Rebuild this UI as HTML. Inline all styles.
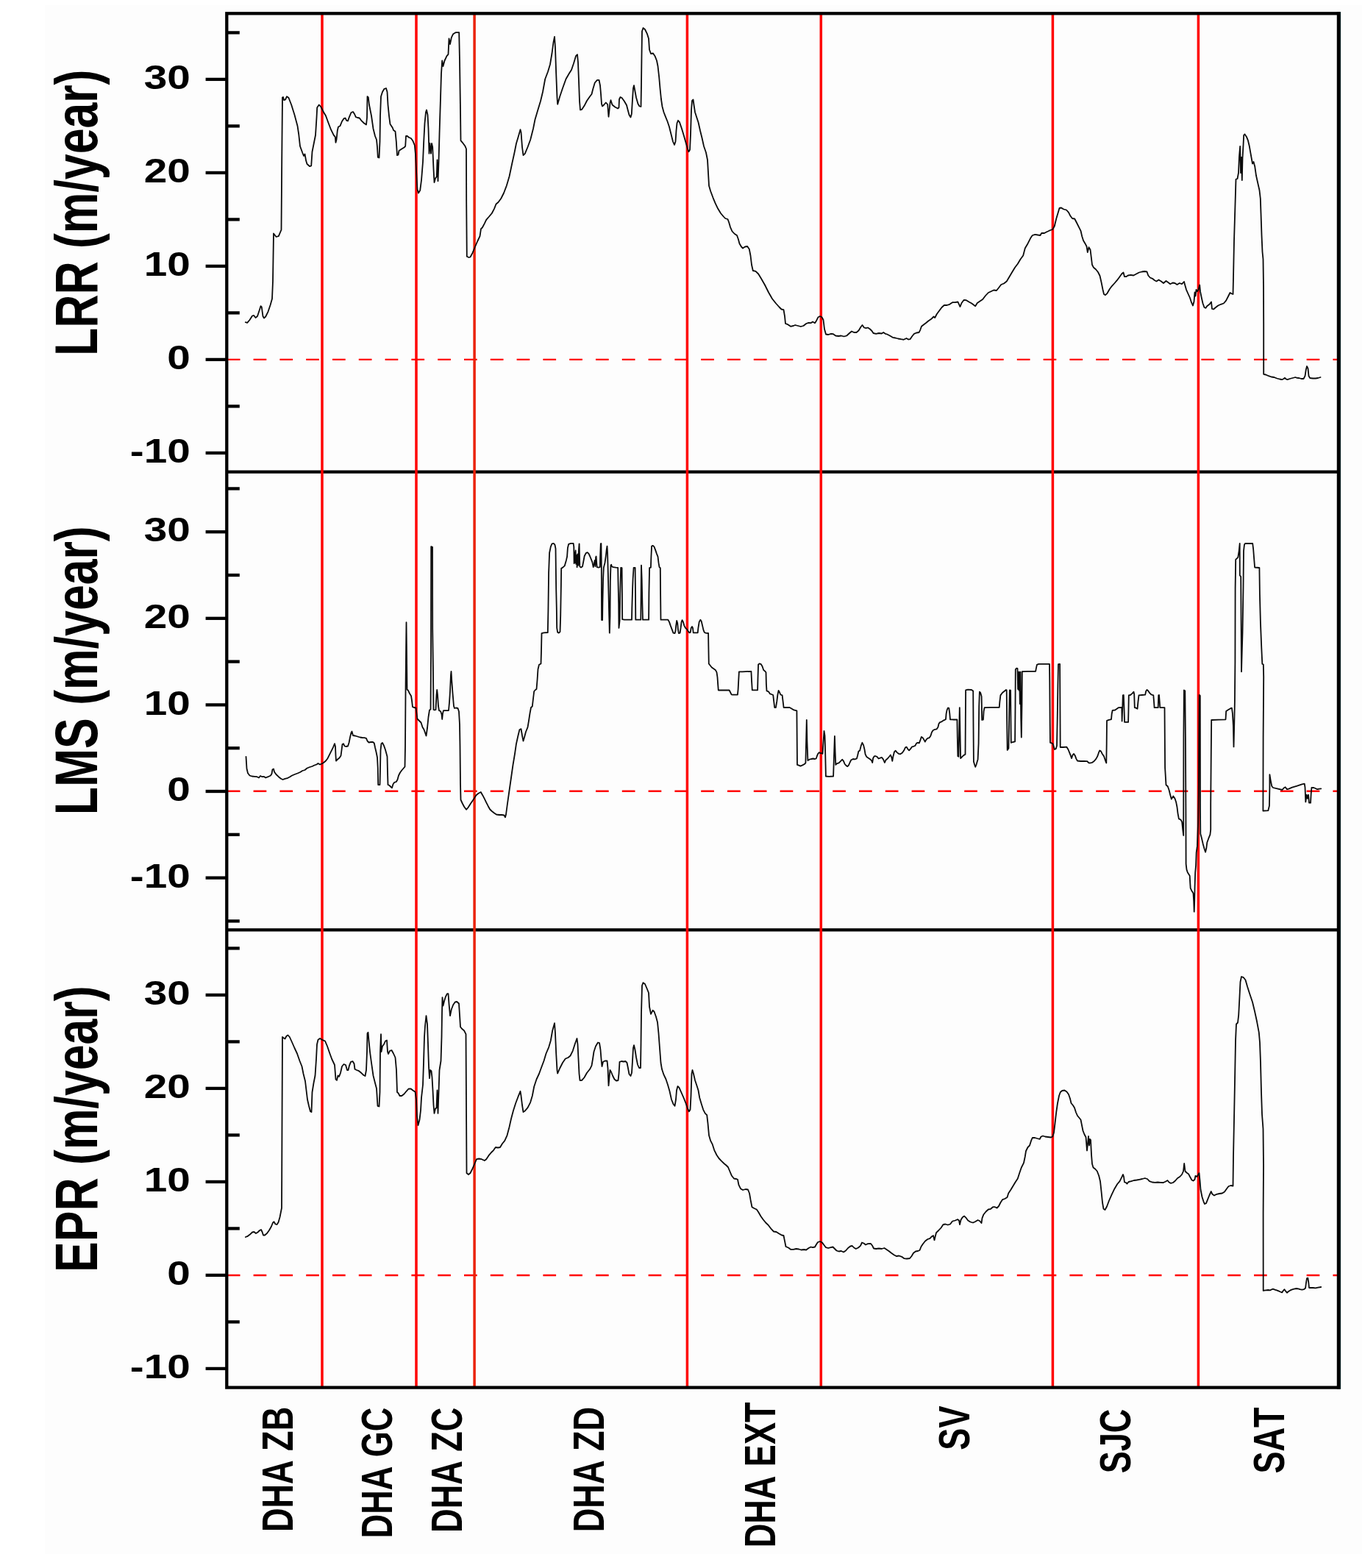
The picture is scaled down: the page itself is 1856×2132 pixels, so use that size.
<!DOCTYPE html>
<html lang="en">
<head>
<meta charset="utf-8">
<title>Shoreline change rates: LRR, LMS, EPR</title>
<style>
html,body{margin:0;padding:0;background:#fff;}
body{width:1856px;height:2132px;overflow:hidden;}
svg{display:block;}
text{font-family:"Liberation Sans",Arial,Helvetica,sans-serif;font-weight:bold;fill:#000;font-kerning:none;}
.tk{font-size:46.4px;text-anchor:end;}
.yl{font-size:62.6px;text-anchor:middle;}
.ct{font-size:45.1px;text-anchor:end;}
.cv{fill:none;stroke:#0a0a0a;stroke-width:1.8;stroke-linejoin:round;stroke-linecap:round;}
.rl{stroke:#ff0000;stroke-width:3.5;}
.dz{stroke:#ff0000;stroke-width:2.4;stroke-dasharray:17.7 18.1;}
.ax{stroke:#000;stroke-width:4.3;}
</style>
</head>
<body>
<svg width="1856" height="2132" viewBox="0 0 1856 2132">
<rect x="0" y="0" width="1856" height="2132" fill="#ffffff"/>
<rect x="61" y="7.3" width="1791" height="2105.7" fill="#fdfdfd"/>
<g class="dz">
<line x1="308.8" y1="488.9" x2="1820.3" y2="488.9"/>
<line x1="308.8" y1="1075.8" x2="1820.3" y2="1075.8"/>
<line x1="308.8" y1="1733.95" x2="1820.3" y2="1733.95"/>
</g>
<g class="ax">
<line x1="308.3" y1="641.7" x2="1820.3" y2="641.7"/>
<line x1="308.3" y1="1264.3" x2="1820.3" y2="1264.3"/>
</g>
<g class="rl">
<line x1="438.0" y1="18.3" x2="438.0" y2="1886.6"/>
<line x1="566.0" y1="18.3" x2="566.0" y2="1886.6"/>
<line x1="645.1" y1="18.3" x2="645.1" y2="1886.6" stroke="#ea2208"/>
<line x1="934.4" y1="18.3" x2="934.4" y2="1886.6"/>
<line x1="1116.3" y1="18.3" x2="1116.3" y2="1886.6"/>
<line x1="1431.4" y1="18.3" x2="1431.4" y2="1886.6"/>
<line x1="1629.4" y1="18.3" x2="1629.4" y2="1886.6"/>
</g>
<polyline class="cv" points="333.8,438.2 336.2,438.8 339.5,435 343,429.5 345,428.8 347.5,432 350,430 352.5,422.5 354.5,416.2 355.8,417.5 357.5,430 359,432.5 361.2,430.5 364.5,423.8 367.5,415 370,406.2 371,382.5 371.5,350 372,317.5 375.5,322 378.8,321.2 382.5,312.5 383.2,220 384,132.5 385,132 386.2,136.2 388,135.5 390,131.2 392.5,133 396.2,142.5 400.5,156.2 404.5,171.2 406.2,182.5 408,198.8 411.2,207.5 413,212 414.5,209.5 416.2,218.8 417.5,223 421.2,226.2 423.2,225.5 424.5,206.2 427,193.8 429,183.8 430.5,160 431.2,146.2 433.8,142.5 436.2,145 440,152.5 443,157.5 446.2,166.2 450,176.2 453.8,183.8 455.8,186.2 456.5,193.8 457.5,190 458.8,177.5 460,172.5 462.5,171.2 465,165 467.5,161.2 469.5,160.5 471.2,163.8 473,164.5 475,158.8 477.5,153 480,152 482,155 483.8,159.2 486.2,160 488.8,160.5 491.2,163.8 495,167.5 498,169.5 499,160 499.5,131.2 500.8,132.5 502,142.5 505,157.5 507.5,175 510,185 512,190 513,200 513.8,213.8 515.5,214.5 516.5,192.5 517,157.5 518,131.2 520,125 522.5,120.8 525,120 526.5,125 527.5,142.5 529,157.5 530.5,168.8 533.8,173.8 535,177 537.5,178.8 538.8,192.5 540,211.2 541.5,210.5 542.5,205 546.2,202.5 549.5,200.5 551.2,198.8 552,185 553.8,185 556.2,187 558.8,188 561.2,191.2 563.8,197.5 565,210 566.2,235 567.5,257.5 569,262.5 571.2,258.8 573,245 575,220 576.2,192.5 577.5,167.5 579,152.5 580,149.5 581.5,156.2 582.5,175 583.5,208.8 584.5,195 586,208.8 587,195 588.2,200 589.5,230 590.5,248 592,242.5 593.8,240 594.5,217.5 595.5,246.2 596.5,220 597.5,182.5 598.8,140 600,100 601.2,82.5 602.5,90 604.5,82.5 607.5,76.2 609.5,73.8 610.5,52.5 612,60 613.8,51.2 616.2,46.2 619.5,44.2 624.2,44.2 625,82.5 626,150 626.5,191.2 628.8,193.8 632.5,198.8 634,202.5 634.2,275 634.8,348.8 637.5,350 639.5,349.5 642.5,343.8 646.2,335 649.5,327.5 652.5,321.2 654,311.2 655.8,309.5 658.8,303.8 661.2,298.8 665,294.5 668.8,290 672,283.8 674.5,277.5 677.5,275 681.2,270 685,262.5 688.8,252.5 692.5,240 696.2,222.5 699.5,207.5 702,195 705,185 707.5,176.2 708.5,180 710,200 711.5,211.2 713.8,208.8 717.5,200 721.2,190 725,175 727.5,162.5 731.2,150 735,137.5 738,125 741.2,107.5 745,97.5 748,87.5 750.5,72.5 752.5,57.5 754,50 755,65 756.2,100 757.5,132.5 758.2,141.8 761.2,131.2 765,120 769.5,107.5 773.8,100 777,95 780,86.2 783,76.2 785,74.2 786,85 787,110 788,137.5 789,149.5 791.2,148.8 794.5,143.8 798,137 802,131.2 804.5,128 806.2,121.2 808.8,112.5 812,108.8 814.5,108.8 816,116.2 817,127.5 818,141.2 819,144.5 821.2,142.5 823.8,139.5 826.2,142 827.5,158.8 828.5,150 829.5,140 830.5,136.2 832.5,142.5 836.2,145.5 840,147.5 841.5,146.2 842,135 843.5,132 845.5,133 848.8,137.5 852,143 853.8,150 855.5,156.2 857.5,159.5 858.8,155 860,135 861,120 862,116.2 863.2,122.5 865,132.5 867.5,141.2 869.5,144.5 871.5,145 872,115 872.5,75 873,42.5 874.5,38 877,40 880,46.2 882,52.5 883,67.5 885,73 888,72.5 890.5,76.2 893,82.5 894.5,90 896.2,105 897.5,120 899,135 900.5,145 902.5,152.5 905,158.8 907.5,165 910,172.5 912.5,182.5 915,192.5 917,197 918.5,192.5 919.5,177.5 920.5,167.5 922,163.8 924,166.2 927,175 930,185 932.5,193.8 935,202.5 936.5,206.2 938,203.8 939,182.5 940,150 941,137 942.5,135.5 943.5,142.5 945,152.5 947,158.8 949.5,166.2 952,177.5 954.5,187.5 957,198.8 960,207.5 962,217.5 963,235 964,252.5 966.2,260 969.5,268.8 972.5,276.2 976.2,283.8 980,290 983.8,294.5 986.2,297 989.5,298 991.2,302.5 993,308.8 995.5,314.5 998.8,318 1002,320 1003.8,325 1005.5,331.2 1008,335.5 1010,337.5 1013,335.5 1016.2,335 1018.8,338.8 1020.5,347.5 1022,360 1023.8,368 1027.5,368.8 1031.2,372.5 1035,378.8 1040,387.5 1045,397.5 1050,406.2 1055,412.5 1059.5,417.5 1062.5,420.5 1065.5,421.2 1067,430 1068,440 1071.2,441.2 1075,443.8 1078.8,443 1081.2,442 1085,443 1088.8,444 1092.5,443 1096.2,440 1099.5,438.8 1102.5,439.2 1105,437.5 1108,439.2 1110,436.2 1112.5,431.2 1115,430 1117.5,431.2 1119.5,435 1121,447.5 1123,454.5 1126.2,455 1130,453.8 1133,454.2 1136.2,456.5 1140,457 1143.8,456.5 1147.5,457.5 1151.2,456.5 1155,453 1158,450.5 1161.2,452 1164.5,452 1167.5,449.5 1170.5,444.5 1172.5,442 1175,445.5 1177.5,446.2 1180,445.5 1183,447.5 1185.5,450 1187.5,453 1191.2,453.8 1195,453 1198.8,453.5 1201.2,452 1203.8,453.8 1206.2,454.5 1210,456.5 1213.8,458.8 1217.5,459.5 1221.2,460.5 1225,461.2 1228.8,461.8 1232.5,460 1235,461.5 1237.5,461.2 1240,457.5 1243,453.8 1246.2,452.5 1249.5,452 1251.2,448.8 1253,443.8 1256.2,441.2 1259.5,438.8 1262.5,436.2 1266.2,433.8 1269.5,430.5 1271.2,432 1273.8,427 1277.5,422 1280.5,418 1283.8,415 1287.5,415 1291.2,413.8 1295,411.2 1298.8,411.2 1302.5,410.5 1304,413.8 1305.5,417 1307.5,412 1310.5,408 1313.8,408.2 1317.5,410.5 1321.2,412.5 1324.5,415 1326.2,416.2 1328.8,412 1332.5,409.5 1336.2,407 1340,402 1343.8,398 1347.5,396.2 1351.2,394.5 1355,395 1358,391.2 1361.2,387 1365,385.5 1368.8,382.5 1372.5,376.2 1376.2,370 1380,363.8 1383.8,358.8 1387.5,352.5 1391.2,347.5 1393.8,337.5 1397.5,331.2 1401.2,323.8 1403.8,320 1407.5,318.8 1411.2,319.5 1414.5,320 1416.2,317 1420,317 1423.8,315 1425,314.5 1428,313 1431.2,312 1433.8,307.5 1436.2,297.5 1438.8,288.8 1440.5,283 1443,282.5 1446.2,284.5 1450,285.5 1453,288.8 1455.5,293.8 1458,297 1461.2,297.5 1463.8,302.5 1467,308.8 1469.5,313.8 1471.2,321.2 1473,327 1475.5,331.2 1477.5,335 1478.8,343 1480.5,336.2 1482.5,339.5 1483.8,350 1485,360 1487,363.8 1490,366.2 1493,370 1495.5,375 1497.5,383.8 1499.5,393.8 1501,400 1503,401.2 1505.5,398.8 1508.8,393 1512,388.8 1515.5,385 1518.8,381.2 1522.5,376.2 1525.5,372 1527.5,370.5 1529,376.2 1531.2,376.2 1533.8,374.5 1537.5,373.8 1541.2,374.5 1545,372.5 1548.8,370.5 1552.5,369.5 1556.2,369 1559.5,369.5 1561.2,374.5 1563.8,377.5 1567,378.8 1570,381.2 1572.5,382.5 1575.5,380.5 1578.8,382.5 1582,385 1585.5,382 1588,383.8 1591.2,386.2 1594.5,384.5 1597.5,385 1600.5,387 1603.8,385 1607,386.2 1610,383 1611.2,387.5 1613,393.8 1615.5,399.5 1618,405 1620,411.2 1622,415.5 1623.5,410 1624.5,397.5 1625.5,402.5 1626.5,393.8 1628,396.2 1629.5,393.8 1631.2,387.5 1632,396.2 1633.8,405 1635.5,412.5 1637.5,418 1639.5,418.8 1641.2,416.2 1644.5,413.8 1647,410.5 1648,420 1650,420.5 1653,418 1656.2,415.5 1660,413.8 1663.8,412.5 1667,408.8 1670,403 1672.5,398 1675,399.5 1676.5,400 1677,377.5 1678,327.5 1679.5,277.5 1680.5,243.8 1682.5,243 1684,235 1685,212.5 1686.2,198.8 1687,235 1688,213.8 1688.8,245 1689.5,215 1690.5,197.5 1691.2,183.8 1692.5,182.5 1695,186.2 1697,191.2 1698.8,198.8 1701.2,212.5 1703,222.5 1704.5,220 1706.2,226.2 1708,238.8 1710.5,250 1712.5,258.8 1713.8,270 1714.5,290 1715.5,320 1716.5,342.5 1717.5,352.5 1718,390 1718.2,440 1718.2,508.8 1721.2,509.5 1725,511.2 1728.8,512.5 1732.5,513 1736.2,514.5 1740,515.5 1743,516.2 1745.5,515 1747,513.8 1748.8,515.5 1750.5,516.2 1753.8,515 1757.5,514 1761.2,513 1763.8,513.8 1766.2,514 1769.5,515 1772.5,515 1774.5,511.2 1775.8,502.5 1777,498 1778.5,501.2 1779.5,511.2 1781.2,514 1785,514.5 1788.8,514.5 1792,514 1795.5,513"/>
<polyline class="cv" points="334.5,1028.8 335.5,1045 337,1051.2 339.5,1054.5 342.5,1055.5 346.2,1055.8 349.5,1056.2 352,1057.5 354,1055 356.5,1056.2 359,1056 361.2,1057.5 364.5,1056.2 368,1054.5 369.5,1052 370.5,1046.2 372,1045.5 373,1049.5 375.5,1053 378.8,1056.2 382,1058.8 384.5,1060 387.5,1058.8 390.5,1058.2 393.8,1056.5 397,1054.5 400.5,1053 404.5,1051.5 408,1050 411.2,1048 414.5,1047 417.5,1044.5 421.2,1043 424.5,1042 427.5,1040.5 430.5,1039.5 432.5,1038 435,1039.5 437.5,1038.5 440,1037 443,1034.5 445.5,1031.2 448,1026.2 450.5,1021.2 453,1016.2 455,1011.2 456,1015 456.5,1027.5 457,1034.5 459,1032.5 461.5,1030.5 463.5,1027.5 464.5,1020 465.5,1012 467,1011.2 468.5,1014.5 470.5,1015 473,1014.5 474.5,1010 476,1002.5 477.5,996.2 478.5,994.5 480,1000 483,1000.5 486.2,1001.5 489.5,1002.5 492.5,1003 495.5,1003.2 498,1003.8 499.5,1007.5 501.5,1009.5 504.5,1009 507,1008.8 508.8,1010.5 510,1016.2 511.5,1022.5 513,1030 513.8,1045 514.2,1067 516.5,1067 517,1045 517.5,1020 518.5,1011.2 520,1010 522,1013.8 524,1019.5 525.5,1025 526.5,1028.8 527,1050 527.5,1067 529.5,1068 531.5,1070 533,1071.2 534.5,1066.2 536.2,1063.8 538.8,1063 540.5,1060 542,1054.5 544,1050.5 546.2,1047.5 548.8,1044.5 550.5,1042.5 551,1015 551.5,940 552,890 552.5,846.2 553,890 553.5,937.5 555,938.8 557,943 559,946.2 560,952.5 561,961.2 563,962 565.5,962.5 566.5,970 567.5,977.5 570,980 572.5,982.5 574.5,988.8 576.5,992 578,996.2 579.5,1000.5 581,990 582.5,975 584,965.5 585.5,964.5 586,890 586.2,743.2 588,743.8 588.2,855 589,915 589.5,965 591,965.5 592.5,965 593.5,945 594.2,938 595,945 596,960 597,966.2 599,967 600.5,971.2 601.2,978 602,970 603,966.2 606.2,966.2 610,966 611,955 612,940 613,917.5 613.5,913 614.2,925 615.5,942.5 617,960 618,963 620,962.5 622.5,963 624,967.5 625,985 625.5,1015 626,1065 626.5,1087.5 628.8,1092.5 631.2,1097 634,1100.8 636.5,1098 640,1092.5 643.8,1087 647.5,1081.2 650.5,1078.8 653.8,1077 656.2,1081.2 658.8,1086.2 661.2,1091.2 663.8,1096.2 666.2,1100.5 668.8,1103 672,1105.5 675,1107.5 678.8,1108 682.5,1108 685.5,1108.5 687,1111.2 688,1107.5 690,1092.5 692.5,1075 695,1057.5 697.5,1040 700,1025 702,1011.2 704.5,1000 706.5,992 708.5,991.2 710,1000 711.5,1007.5 713,1002.5 715,995 717.5,988.8 719,980 720.5,970 722,962 723.8,960.5 725,950 726.2,940 728,938 729.5,937 730.5,925 731.5,910 733,903.8 735.5,902.5 736,885 736.5,861.2 739.3,860.3 744.8,860 745.4,830.5 746.1,778.6 747.1,751.8 748.8,743.4 750.5,739.3 752.8,738.8 754.5,740.9 755.5,746 755.8,770.2 756.2,800.4 756.8,827.1 757.2,853.9 758.2,859.8 759.8,860.6 761.5,859 762.2,837.2 762.9,795.3 763.2,772.7 765.2,771.6 767.7,769.4 769.9,761.9 771.1,756.8 771.9,745.1 773.2,739.8 776.1,738.9 779.6,738.9 780.3,743.4 780.6,766 781.3,751 781.9,765.2 782.6,748.5 783.3,766.9 784,755.2 784.6,771.1 785.3,753.5 786.3,768.6 787,746.8 787.6,739.3 788.3,770.2 790,771.6 792,770.2 793.3,763.5 794.7,756 796.7,752.1 798.7,751.1 800.4,752.6 802,756 803.7,760.2 805.4,764.4 806.7,771.1 807.7,766.9 808.7,761.9 809.4,770.2 810.1,757.7 810.6,756.5 811.2,765.2 811.7,771.1 813.8,771.6 815.8,771.1 816.1,756.8 816.8,739.3 817.4,738.9 817.8,770.2 818.1,843.1 819.1,843.1 819.4,820.5 820.1,787 820.8,771.9 822.5,765.2 823.8,756 824.8,746.8 825.5,742.6 826.1,753.5 826.8,778.6 827.5,807.1 828.2,837.2 828.8,860.6 829.5,837.2 829.8,790.3 830.5,768.6 831.2,767.7 831.8,770.2 833.8,771.1 837.2,771.6 840.2,771.9 840.5,790.3 841.2,820.5 841.5,853.9 842.6,843.9 843.2,807.1 844.2,771.9 845.6,772.2 845.9,807.1 846.2,842.2 848.9,842.7 853.9,842.7 859,842.7 859.3,827.1 860,803.7 860.6,787 861.6,771.9 863.6,771.9 864,807.1 864.3,842.7 867.3,842.7 871.3,842.7 871.7,803.7 872,768.6 872.7,787 873.4,820.5 874,842.7 877.4,842.7 882.1,842.7 882.4,807.1 883.1,772.2 884.9,771.6 885.4,756.8 886.1,742.6 887.8,741.8 889.4,743.4 891.1,747.6 892.8,752.6 894.5,756.8 895.5,765.2 896.5,771.1 897.8,772.2 898.1,807.1 898.5,842.7 902.5,842.7 908.3,842.7 910,845.6 911.7,850.6 913.9,856.4 915.5,860.6 917.6,861 918.6,857.3 919.2,850.6 920.2,843.9 921.2,847.2 921.9,855.6 922.9,861 924.6,860.6 925.6,853.9 926.6,845.6 927.6,843.1 928.9,845.6 930.3,850.6 932,853.9 934,855.6 935.6,858.1 937.3,860.3 938.7,859.8 939.7,853.9 941,851.9 942,853.9 942.7,860.3 945.2,860.3 948.7,860.3 949.4,853.9 950.7,845.6 952.4,842.7 953.7,844.7 955.1,850.6 956.4,856.4 957.7,859.8 959.4,860.6 963.1,861 963.4,880.7 963.8,902.5 965.8,905 967.8,907.5 970.3,909.2 972.8,910.9 974.5,914.2 975.5,920.9 976.2,930.9 976.8,938.5 981.2,938.5 987.9,938.5 991.6,938.5 992.9,941 994.6,944.3 996.2,944.7 1002.9,944.7 1003.6,937.6 1004.3,924.3 1004.9,913.4 1009.6,913.4 1021.4,912.8 1022.1,926.9 1022.8,938.3 1030.1,938.3 1030.5,921.9 1031.1,903.4 1032.8,902.3 1034.8,903.1 1036.5,906 1038.2,911 1040.2,912.6 1041.5,914.3 1041.9,930.2 1042.5,939.4 1044.9,940.3 1046.9,943.3 1048.9,944 1051.2,945 1052.2,953.7 1053.2,962 1054.9,962 1056.3,953.7 1057.3,945.3 1058.6,938.9 1059.9,941.1 1061.3,944.5 1063.6,945.3 1064.6,953.7 1065.6,962 1070.3,962 1073.7,962 1076.7,963.7 1079.5,965.4 1083.4,966.4 1083.7,1003.9 1084,1039.9 1086.2,1040.7 1088.4,1041.6 1091.2,1040.4 1093.8,1039 1095.4,1037.4 1096.1,1007.2 1096.8,978.8 1097.4,1007.2 1098.4,1034 1100.5,1032.7 1103,1032 1105.5,1031.5 1108,1032 1109.7,1031.5 1110.8,1028.2 1112.2,1024.8 1113.8,1023.1 1115.5,1024 1117.9,1024.3 1118.5,1024.8 1119.5,1008.9 1120.5,993.8 1121.5,1000.5 1122.2,1024 1122.9,1055.5 1127.2,1055.8 1133.1,1055.5 1133.9,1030.7 1134.9,1000.9 1135.6,1022.3 1136.3,1039.9 1138.1,1038.2 1140.6,1037.4 1143.1,1034.9 1145.3,1032.7 1147,1034.9 1148.7,1039 1150.7,1041.1 1152.4,1042.1 1154,1040.4 1155.7,1036.5 1157.4,1033.2 1159.9,1032 1162.4,1032.4 1164.9,1031.5 1166.1,1027.3 1167.4,1021.5 1169.1,1020.6 1170.8,1013.9 1172.4,1009.8 1174.1,1013.1 1175.5,1019 1176.6,1025.7 1178.3,1029 1180.8,1030.7 1183.3,1032.4 1185,1034 1186.2,1037 1187.2,1030.7 1188.8,1028.2 1190.9,1028.2 1192.9,1029.3 1194.5,1031.5 1196.7,1030.7 1198.9,1029.8 1200.9,1032.4 1202.9,1037 1204.6,1033.2 1206.8,1031.5 1208.9,1029 1210.9,1026.5 1212.3,1029.8 1213.3,1034.9 1214.3,1029 1216,1022.3 1217.6,1020.6 1219.7,1023.1 1221.8,1024.8 1224.3,1025.3 1226.9,1023.6 1229,1020.6 1231,1016.4 1232.7,1015.6 1234.4,1018.6 1236.1,1020.3 1238.1,1018.1 1240.2,1015.3 1242.4,1014.8 1244.4,1013.9 1246.1,1010.6 1247.8,1009.8 1249.8,1010.3 1251.1,1007.2 1252.8,1001.9 1254.5,1003.1 1256.2,1005.6 1257.8,1008.6 1259.5,1005.6 1261.2,1003.9 1263.7,1003.1 1265.4,1000.5 1267,995.5 1268.7,993 1271.2,991.8 1273.7,991.3 1275.4,988.8 1276.6,983.8 1278.3,981.8 1280.4,981.3 1282.6,979.6 1284.6,978.8 1286,977.9 1286.6,970.4 1287.6,965.4 1289,962.4 1290.3,962.9 1291.3,970.4 1292,978.4 1294.7,978.4 1296.7,978.5 1301.4,978.5 1301.8,1002.3 1302.4,1028.3 1303.4,1028.8 1304.1,993.9 1304.8,962.1 1305.4,993.9 1306.1,1031.1 1308.1,1029.1 1310.1,1027.1 1312.5,1025.7 1312.8,980.5 1313.1,938.4 1316,937.7 1321,938 1323.2,939.5 1323.5,987.2 1323.9,1035.5 1325.2,1040 1326.2,1042.8 1327.7,1039.1 1329.6,1032.4 1330.6,1010.7 1331.2,960.5 1331.9,940.7 1333.2,942 1334.6,947.1 1335.2,978.9 1336.9,978.5 1337.6,967.1 1338.6,962.1 1347,961.8 1358.7,961.8 1359.4,953.8 1360.4,945.4 1362.9,942 1365.4,940 1367.9,938 1368.7,938.4 1369.1,977.2 1369.7,1019.9 1371.4,1017.4 1372.1,977.2 1372.8,938.4 1374.1,938.7 1374.4,973.8 1374.8,1009.8 1377.1,1009 1380.1,1008.3 1380.5,960.5 1380.8,910.2 1382.1,908.6 1383.5,908.9 1384.1,937 1384.8,913.6 1385.5,938.7 1386.1,913.6 1386.8,957.1 1387.5,913.6 1388.2,977.2 1388.8,1002.6 1389.5,957.1 1389.8,913.2 1397.2,912.9 1408.1,912.9 1408.9,908.6 1409.9,903.9 1412.3,902.9 1427,902.9 1427.3,927 1427.7,983.9 1428,1009.8 1429.8,1010.3 1431.7,1011.5 1432.7,1014.9 1434,1019 1435.7,1018.2 1437,1014 1437.7,977.2 1438.4,932 1439,903.2 1441.1,902.9 1441.4,960.5 1441.7,1016 1445.7,1016 1450.4,1015.7 1452.4,1019 1454.1,1023.2 1455.8,1027.4 1457.1,1031.1 1458.5,1026.6 1460.1,1024.9 1461.8,1027.4 1463.3,1031.6 1465,1034.5 1469.2,1035 1474.2,1035 1478.4,1035.1 1480.1,1037.1 1482.2,1037.5 1485.1,1036.8 1487.6,1035 1490.1,1032.1 1492.3,1028.3 1494,1023.2 1495.3,1020.4 1497,1021.6 1498.7,1024.9 1501,1028.3 1503,1034.1 1504.3,1037.5 1504.7,1010.7 1505,979.9 1507.7,978.9 1511,978.2 1511.7,970.5 1512.7,965.8 1516.1,965.5 1518.6,963.8 1521.1,962.1 1525.3,961.8 1525.6,980.5 1526.1,967.1 1526.8,945.4 1527.8,945 1528.5,963.8 1529.1,981.9 1534.1,981.9 1534.5,963.8 1534.8,945.4 1537,945 1539.5,942.9 1541.5,940.7 1542.2,943.7 1542.8,962.1 1544.5,962.5 1546.5,963.8 1547.5,953.8 1548.5,945.4 1552.9,945 1557.1,944.7 1558.3,939.5 1559.6,937.9 1561.3,939.5 1563.3,942.4 1565.5,944.5 1568.3,945.4 1569,953.8 1569.6,962.1 1574.7,962.1 1575.3,945.4 1576,945 1576.7,953.8 1577.3,962.1 1583.5,962.2 1583.8,1003.7 1584.1,1043.9 1585.5,1067.3 1587.8,1069.3 1589.5,1074 1591.2,1080.7 1592.8,1086.6 1595.3,1082.4 1597.5,1085.7 1599.2,1090.8 1600.5,1097.5 1601.5,1105.8 1602.9,1113.4 1605.4,1114.5 1607.2,1117.6 1608.2,1127.6 1609.2,1136 1609.4,1000 1609.9,938.4 1611.3,939.3 1611.9,1003.7 1612.4,1100 1612.6,1174.6 1613.5,1182.4 1614.8,1186.3 1617.7,1190.7 1618.2,1199.9 1618.7,1207.7 1620.6,1211.6 1622.5,1214.5 1623.2,1225.2 1623.7,1239.7 1624.2,1225.2 1624.6,1205.7 1625.2,1186.3 1626.1,1176.6 1626.7,1159.1 1627.9,1150.4 1629.1,1118.3 1629.8,1079.4 1630.3,1000 1630.8,945 1631.8,946 1632,1098.9 1632.3,1133.8 1633.7,1138.7 1635.7,1147.4 1637.6,1154.2 1639.1,1158.6 1640.3,1153.3 1641.3,1145.5 1643.4,1139.7 1645.4,1134.8 1646.2,1128 1646.2,1094 1646.8,1020.5 1647.2,979 1656.5,978.6 1666.5,978.3 1667.2,966.9 1669.8,965.2 1673.2,963.2 1674.9,962.7 1675.9,970.2 1676.9,987 1677.5,1015.4 1678.2,987 1678.9,953.5 1679.4,900 1679.6,800 1680.2,760.8 1683.3,757.9 1684.7,749.1 1685.7,739 1685.8,782.2 1687.2,784.1 1687.7,860 1688,913.3 1689.5,860 1690.5,797.7 1691,749 1692,740.4 1693,739 1703.2,739 1704.2,747.2 1705.1,758.9 1706.1,771.5 1712.4,772 1712.9,807.4 1713.9,846.3 1715.3,881.3 1716.3,902.7 1717.8,903.6 1718.2,920 1717.6,1003.7 1717.4,1102.5 1724.3,1102.2 1725.9,1095.8 1726.4,1070.7 1726.4,1053.1 1727.6,1060.6 1729.3,1069 1731,1071 1736.8,1072.4 1743.5,1074 1745.5,1071.5 1747.7,1070.3 1749.9,1073.2 1752.2,1072.7 1756.9,1070.7 1763.6,1068.7 1770.3,1066.3 1773.7,1065.7 1774.5,1070.7 1775.3,1090.4 1776.7,1080.7 1777.8,1085.7 1779,1080.7 1780,1091.6 1782,1091.6 1782.7,1079 1783.4,1071 1786.2,1071 1788.7,1072 1791.2,1073.2 1793.7,1072.7 1796.2,1072.4"/>
<polyline class="cv" points="333.8,1682 336.2,1681.2 339.5,1678.8 343,1675.5 345.5,1675 348,1677 350.5,1675.5 353,1673 355,1672 356.5,1675 358,1679.5 360,1679.5 363,1677 366.2,1672.5 369,1667.5 371,1662.5 372.5,1661.2 374.5,1664.5 376.5,1665 378.5,1662 380.5,1655 382,1647.5 383,1642.5 383.2,1600 383.5,1525 384,1410 385.5,1411.2 387.5,1412.5 389.5,1408.8 391.5,1407.5 393.8,1410 397,1417 400.5,1425 404,1432.5 407.5,1442.5 410.5,1450 412.5,1460 415,1470 416.5,1482.5 418,1495 420,1503.8 422,1511.2 423.5,1512 424.5,1485 426.5,1472.5 428.5,1462.5 430,1440 431,1420 432.5,1413.8 435,1412 438,1413.8 442,1415.5 445,1422.5 448,1431.2 451.2,1440 455,1448 456.5,1467.5 458,1468.8 459.5,1462.5 461,1463.8 463,1458.8 465,1450 467.5,1447 470,1448 472,1455 473.5,1455 475,1448.8 477,1443.8 479.5,1443 481.5,1446.2 482.5,1453.8 485,1455 488,1456.2 491.2,1458.8 494.5,1462 496.5,1463 498,1455 499,1430 499.5,1405 500.5,1403.8 501.5,1415 503,1430 505,1445 507.5,1462.5 510,1472.5 512,1480 513.5,1503.8 515.5,1504.5 516.5,1485 517,1430 518,1406.2 518.5,1430 520,1422.5 522,1420 524,1415.5 526,1414.5 527,1430 528,1433 530,1428.8 532.5,1428 535,1432.5 537.5,1438 539,1455 540,1485 541.5,1486.2 543.5,1490 546.2,1490 549.5,1487.5 552.5,1483.8 555.5,1480.5 558.8,1480.5 562,1483 564.5,1484.5 566,1495 567,1517.5 568.5,1530 570.5,1522.5 572,1510 573,1492.5 575,1475 576,1445 577,1410 578,1395 579.5,1381.2 581,1392.5 582,1420 583,1450 584,1466.2 585,1455 586.5,1456.2 587.5,1465 588.5,1482.5 589.5,1502.5 590.5,1513.8 592,1507.5 593.5,1506.2 594.5,1482.5 595.5,1513.8 596.5,1485 597.5,1455 599.5,1442.5 600.5,1410 601,1377.5 601.5,1356.2 602.5,1367.5 604,1361.2 606,1355 608,1351.2 609.5,1351.2 610.5,1365 612,1381.2 613.8,1372.5 616.2,1366.2 618.8,1362.5 621.2,1362 624,1364.5 625,1380 626,1396.2 628,1398.8 631,1401.2 633.5,1406.2 634,1500 634.5,1595 637,1597 639.5,1595 642.5,1588.8 645.5,1582 648,1576.2 651.2,1575.5 655,1576.2 658.8,1578 661.2,1576.2 664.5,1571.2 668,1567 671.2,1563.8 673.8,1560 677,1560.5 680,1560 683,1555 686.2,1551.2 689.5,1543.8 692.5,1532.5 695,1521.2 698,1510 701.2,1500 704.5,1491.2 707.5,1483.8 708.5,1490 710,1502.5 711.5,1512 713.8,1510.5 717.5,1506.2 721.2,1498.8 723.8,1490 726.2,1477.5 729.5,1467.5 733,1460 736.2,1451.2 739.5,1442.5 742.5,1432.5 746.2,1423.8 748.8,1415 751.2,1401.2 754,1391.2 755,1405 756.2,1432.5 757.5,1455 758.2,1459.5 761.2,1452.5 765,1445 768.8,1439.5 772.5,1438 775.5,1435.5 778.8,1428.8 782,1418.8 784.5,1412 785.5,1420 786.5,1440 787.5,1460 788.5,1469 791.2,1468.8 794.5,1465 798,1458.8 802,1453.8 804.5,1448.8 806,1440 807.5,1430 810,1422.5 813,1417.5 815,1418 816.5,1427.5 817.5,1440 818.5,1450 820,1443.8 822.5,1442.5 825.5,1442.5 826.5,1452.5 827.5,1476.2 828.5,1465 829.5,1455 831,1457.5 833,1462.5 835.5,1467.5 838,1469.5 840.5,1469 841.5,1460 842.5,1443.8 845,1443 848,1443.5 850.5,1443 852.5,1445 854,1452.5 855.5,1460.5 857.5,1463 859,1458.8 860,1442.5 861,1425 862,1421.2 863.5,1427.5 865,1437.5 867,1447.5 869,1452 871,1452 871.5,1420 872,1377.5 873,1340 874.5,1336.2 877,1338 880,1345 882,1350 883,1368.8 885,1378.8 887.5,1373.8 889.5,1375.5 892,1382.5 894,1390 895.5,1405 897,1425 898.5,1445 900,1453.8 902.5,1461.2 905.5,1467.5 908,1475 910.5,1483.8 913,1495 915.5,1501.2 917.5,1503.8 919,1495 920,1482.5 921.5,1477 923.5,1478.8 926.2,1485 929.5,1492.5 932.5,1500 935,1507.5 937,1511.2 938.5,1508.8 939.5,1490 940.5,1460 941.5,1455 943,1460 945,1468.8 947.5,1476.2 949.5,1482.5 951.2,1492.5 953.8,1501.2 956.2,1508.8 958.8,1513.8 961.2,1516.2 962.5,1527.5 964,1543.8 966.2,1551.2 968.8,1556.2 971.2,1563.8 974.5,1570.5 977.5,1575 981.2,1578.8 985,1582.5 987.5,1584.5 990,1587 992.5,1593 995,1598.8 998,1602.5 1001.2,1603 1003,1603.8 1004.5,1611.2 1007,1616.2 1010,1618 1013.8,1617 1017,1617.5 1019,1622.5 1020.5,1631.2 1022.5,1641.2 1025.5,1643 1028.8,1644.5 1031.2,1648 1034.5,1653.8 1037.5,1658 1041.2,1662.5 1045,1666.2 1048.8,1671.2 1052,1674.5 1055.5,1675 1059.5,1677.5 1063,1679.5 1065.5,1680 1067,1687.5 1068.5,1695 1072,1696.5 1075,1698.8 1078.8,1698.8 1082.5,1698 1086.2,1698.5 1089.5,1699.5 1093,1699 1096.2,1699.5 1099.5,1697 1102.5,1695.5 1105,1696.2 1108,1695.5 1110,1692 1112,1689 1115,1688 1118,1689.5 1120.5,1693 1123,1696.2 1126.2,1697 1129.5,1696.2 1132.5,1695.5 1135,1698 1137.5,1700.5 1140.5,1701.5 1143.8,1701 1147,1702.5 1150,1700.5 1153,1697 1156.2,1694.5 1158.8,1694 1161.2,1696.5 1163.8,1698 1167,1696.5 1170,1693.8 1172,1689.5 1174.5,1690.5 1177,1692.5 1180,1691.2 1183.8,1690.8 1186.2,1693.8 1188,1697.5 1191.2,1698 1195,1697.5 1198.8,1698 1202.5,1697 1205.5,1699 1208.8,1701.2 1212,1703.8 1215.5,1706.2 1218.8,1708 1222.5,1707.5 1226.2,1708.8 1229.5,1711.2 1233,1711.5 1237,1711 1239.5,1708 1242,1703.8 1245,1701.5 1248,1701 1250.5,1700 1252.5,1695 1255,1691.2 1258,1687.5 1261.2,1685 1264.5,1683.8 1267,1681.2 1269,1680 1270.5,1686.2 1272,1680 1273,1676.2 1276.2,1673 1279.5,1669.5 1282.5,1665 1285.5,1664.5 1288.8,1665.5 1292,1664.5 1295,1660.5 1298.8,1659.5 1302,1658 1304,1659.5 1305,1665 1306.5,1658.8 1308.8,1655 1311.2,1653.5 1313.8,1656.2 1316.2,1659.5 1319.5,1661.5 1323,1662.5 1326.2,1661 1329.5,1659 1332,1660 1334.5,1663 1335.5,1656.2 1337.5,1651.2 1340.5,1647.5 1343.8,1644.5 1347,1643.8 1350,1641.2 1353,1641.2 1355.5,1642.5 1358,1640 1360.5,1635 1363,1631.2 1366.2,1630 1369.5,1628 1371.2,1622.5 1374.5,1617.5 1377.5,1612.5 1380.5,1607.5 1383.8,1602.5 1386.2,1595 1388.8,1587.5 1392,1581.2 1393.8,1572.5 1395,1565 1397.5,1560 1400,1557.5 1402,1551.2 1403.8,1547 1407,1547 1410.5,1548 1413.8,1548.8 1415.5,1545.5 1418,1544.5 1421.2,1545.5 1425,1546 1428.8,1546.5 1431.2,1545.5 1433,1540 1434.5,1527.5 1436.2,1512.5 1438,1500 1440,1490 1441.8,1485 1444.2,1483 1447.5,1482.5 1450.5,1484.5 1453,1488 1455,1493.8 1456.5,1500 1459,1503 1461,1506.2 1463,1512.5 1465,1517 1467.5,1520 1469.5,1522.5 1471,1530 1472.5,1537.5 1474.5,1542.5 1476.5,1546.2 1478,1564.5 1479,1555 1480,1545 1481,1557.5 1482,1548.8 1483,1550 1484,1570 1485,1582.5 1486.5,1587.5 1489.2,1589.5 1491.8,1592.5 1494.2,1598.8 1496,1606.2 1497.5,1620 1499,1635 1500.5,1643.8 1502.5,1645 1505,1640.5 1508,1632.5 1511.8,1623.8 1515.5,1616.2 1519.2,1610 1522.5,1606.2 1525,1601.2 1527,1597 1528,1600 1529,1607.5 1531,1608 1532.5,1609.5 1534.5,1607 1538,1606.2 1541.8,1605 1545.5,1604.5 1549.2,1603.8 1553,1603 1556.8,1602 1560,1603 1563,1606.2 1566.8,1607.5 1570.5,1607.8 1574.2,1607.5 1578,1607.8 1581.8,1608 1585,1606.5 1587.5,1605 1589.5,1607.5 1591.8,1608.8 1595,1608 1598,1605.5 1601,1602 1604.2,1600 1607,1597 1609,1592.5 1610.2,1582 1611.5,1592.5 1613.5,1594.5 1616,1596.2 1618,1600 1620.5,1604.5 1622.5,1605.5 1624.5,1603.8 1625.5,1598.8 1627.5,1600 1629,1597.5 1630.5,1595 1631.5,1605 1632.5,1617.5 1634.5,1627.5 1636.5,1633.8 1638,1637 1640,1636.2 1642,1631.2 1644.5,1625 1646.8,1620 1648.5,1623.8 1651,1625.5 1654.2,1623.8 1658,1623 1661.8,1622.5 1665,1620.5 1668,1616.2 1670.5,1613 1673.5,1612 1676.5,1612.5 1677,1572.5 1678,1522.5 1679,1470 1680,1415 1681,1392.5 1683,1390.5 1684.2,1380 1685.5,1355 1686.5,1335 1688,1328 1690.5,1328.8 1693.5,1332.5 1696,1341.2 1699.2,1351.2 1703,1362.5 1706,1375 1709,1388.8 1711.8,1403.8 1713,1417.5 1714,1445 1715,1485 1716,1515 1717.5,1535 1718,1585 1717.6,1650.2 1717.7,1754.9 1720.9,1754.4 1724.3,1754 1726.8,1754.4 1729.3,1753.2 1731,1752.7 1733.5,1753.7 1736,1754.4 1738.5,1755.4 1741,1756.5 1743.2,1757.4 1744.8,1754.9 1746.5,1753.2 1748.2,1755.7 1749.9,1757.7 1751.9,1756 1754.4,1754.4 1756.9,1753.4 1759.4,1752.7 1762.8,1752 1765.3,1752.4 1767.8,1753.2 1770.3,1753.7 1772.8,1753.2 1775,1751.5 1776,1744 1777,1738.1 1778.3,1737.6 1779.3,1744 1780,1751 1782,1751 1785.4,1751 1788.7,1751.3 1792.1,1750.7 1796.2,1750"/>
<line x1="1822.6" y1="16.150000000000002" x2="1822.6" y2="1888.75" stroke="#2f6f76" stroke-width="1.1"/>
<rect x="308.3" y="18.3" width="1512.0" height="1868.3" fill="none" stroke="#000" stroke-width="4.3"/>
<line x1="1820.1" y1="16.150000000000002" x2="1820.1" y2="1888.75" stroke="#000" stroke-width="4.7"/>
<g class="ax">
<line x1="279.6" y1="107.9" x2="308.3" y2="107.9"/>
<line x1="279.6" y1="234.9" x2="308.3" y2="234.9"/>
<line x1="279.6" y1="361.9" x2="308.3" y2="361.9"/>
<line x1="279.6" y1="488.9" x2="308.3" y2="488.9"/>
<line x1="279.6" y1="615.9" x2="308.3" y2="615.9"/>
<line x1="308.3" y1="44.4" x2="325.8" y2="44.4"/>
<line x1="308.3" y1="171.4" x2="325.8" y2="171.4"/>
<line x1="308.3" y1="298.4" x2="325.8" y2="298.4"/>
<line x1="308.3" y1="425.4" x2="325.8" y2="425.4"/>
<line x1="308.3" y1="552.4" x2="325.8" y2="552.4"/>
<line x1="279.6" y1="723.2" x2="308.3" y2="723.2"/>
<line x1="279.6" y1="840.8" x2="308.3" y2="840.8"/>
<line x1="279.6" y1="958.4" x2="308.3" y2="958.4"/>
<line x1="279.6" y1="1076.0" x2="308.3" y2="1076.0"/>
<line x1="279.6" y1="1193.6" x2="308.3" y2="1193.6"/>
<line x1="308.3" y1="664.4" x2="325.8" y2="664.4"/>
<line x1="308.3" y1="782.0" x2="325.8" y2="782.0"/>
<line x1="308.3" y1="899.6" x2="325.8" y2="899.6"/>
<line x1="308.3" y1="1017.2" x2="325.8" y2="1017.2"/>
<line x1="308.3" y1="1134.8" x2="325.8" y2="1134.8"/>
<line x1="308.3" y1="1252.4" x2="325.8" y2="1252.4"/>
<line x1="279.6" y1="1352.9" x2="308.3" y2="1352.9"/>
<line x1="279.6" y1="1479.9" x2="308.3" y2="1479.9"/>
<line x1="279.6" y1="1606.9" x2="308.3" y2="1606.9"/>
<line x1="279.6" y1="1733.9" x2="308.3" y2="1733.9"/>
<line x1="279.6" y1="1860.9" x2="308.3" y2="1860.9"/>
<line x1="308.3" y1="1289.4" x2="325.8" y2="1289.4"/>
<line x1="308.3" y1="1416.4" x2="325.8" y2="1416.4"/>
<line x1="308.3" y1="1543.4" x2="325.8" y2="1543.4"/>
<line x1="308.3" y1="1670.4" x2="325.8" y2="1670.4"/>
<line x1="308.3" y1="1797.4" x2="325.8" y2="1797.4"/>
</g>
<text class="tk" transform="translate(258.8,121.1) scale(1.2235,1)">30</text>
<text class="tk" transform="translate(258.8,248.1) scale(1.2235,1)">20</text>
<text class="tk" transform="translate(258.8,375.1) scale(1.2235,1)">10</text>
<text class="tk" transform="translate(258.8,502.1) scale(1.2235,1)">0</text>
<text class="tk" transform="translate(258.8,629.1) scale(1.2235,1)">-10</text>
<text class="tk" transform="translate(258.8,736.4) scale(1.2235,1)">30</text>
<text class="tk" transform="translate(258.8,854.0) scale(1.2235,1)">20</text>
<text class="tk" transform="translate(258.8,971.6) scale(1.2235,1)">10</text>
<text class="tk" transform="translate(258.8,1089.2) scale(1.2235,1)">0</text>
<text class="tk" transform="translate(258.8,1206.8) scale(1.2235,1)">-10</text>
<text class="tk" transform="translate(258.8,1366.1) scale(1.2235,1)">30</text>
<text class="tk" transform="translate(258.8,1493.1) scale(1.2235,1)">20</text>
<text class="tk" transform="translate(258.8,1620.1) scale(1.2235,1)">10</text>
<text class="tk" transform="translate(258.8,1747.1) scale(1.2235,1)">0</text>
<text class="tk" transform="translate(258.8,1874.1) scale(1.2235,1)">-10</text>
<text class="yl" transform="translate(131.6,289.3) scale(1.3,1) rotate(-90)">LRR (m/year)</text>
<text class="yl" transform="translate(131.6,911.8) scale(1.3,1) rotate(-90)">LMS (m/year)</text>
<text class="yl" transform="translate(131.6,1535.2) scale(1.3,1) rotate(-90)">EPR (m/year)</text>
<text class="ct" transform="translate(397.8,1912.8) scale(1.3215,1) rotate(-90)">DHA ZB</text>
<text class="ct" transform="translate(532.5,1913.6) scale(1.3215,1) rotate(-90)">DHA GC</text>
<text class="ct" transform="translate(628.3,1913.6) scale(1.3215,1) rotate(-90)">DHA ZC</text>
<text class="ct" transform="translate(820.7,1912.9) scale(1.3215,1) rotate(-90)">DHA ZD</text>
<text class="ct" transform="translate(1053.5,1906.5) scale(1.3215,1) rotate(-90)">DHA EXT</text>
<text class="ct" transform="translate(1318.2,1911.5) scale(1.3215,1) rotate(-90)">SV</text>
<text class="ct" transform="translate(1537.3,1915.6) scale(1.3215,1) rotate(-90)">SJC</text>
<text class="ct" transform="translate(1745.6,1913.4) scale(1.3215,1) rotate(-90)">SAT</text>
</svg>
</body>
</html>
